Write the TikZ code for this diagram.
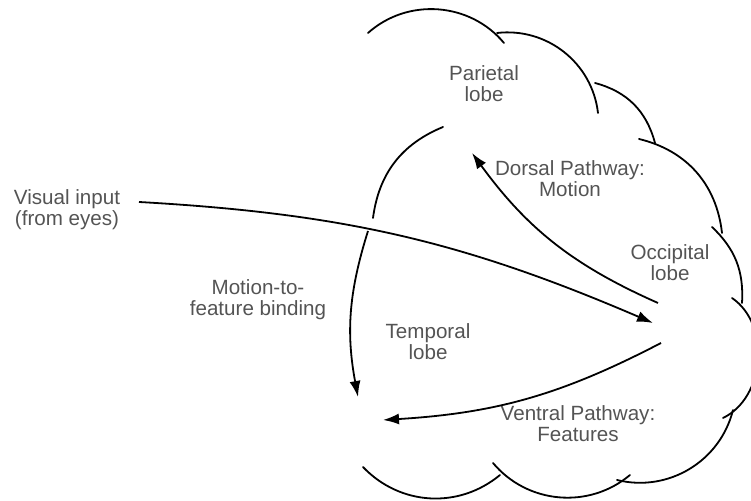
\documentclass[tikz,border=0pt]{standalone}
\usepackage{fontspec}
\setmainfont{Liberation Sans}
\usetikzlibrary{arrows.meta}
\definecolor{labelgrey}{rgb}{0.33,0.33,0.33}
\tikzset{
  lobe/.style={text=labelgrey, align=center, inner sep=0pt,
    font=\fontsize{10.3}{10.5}\selectfont},
  rim/.style={line width=0.9pt, line cap=round},
  pathway/.style={line width=0.9pt, -{Latex[length=8pt,width=5.5pt]}},
}

\begin{document}
\begin{tikzpicture}[x=0.5pt,y=0.5pt]
\useasboundingbox (0,0) rectangle (751,501);
% cloud rim, one scallop at a time
\draw[rim] (368,468) to[bend left=46] (504,458);
\draw[rim] (497,468) to[bend left=45] (598,388);
\draw[rim] (595,418) to[bend left=30] (655,358);
\draw[rim] (639,362) to[bend left=35] (722,268);
\draw[rim] (712,274) to[bend left=25] (742,198);
\draw[rim] (732,203) to[bend left=60] (723,83);
\draw[rim] (733,91) to[bend left=45] (617,21);
\draw[rim] (493,38) to[bend right=45] (630,26);
\draw[rim] (363,34) to[bend right=43] (500,26);
\draw[rim] (443,374) to[bend right=30] (373,283);
% labels
\node[lobe] (visual)    at (67,291)  {Visual input\\(from eyes)};
\node[lobe] (parietal)  at (484,417) {Parietal\\lobe};
\node[lobe] (dorsal)    at (570,322) {Dorsal Pathway:\\Motion};
\node[lobe] (occipital) at (670,238) {Occipital\\lobe};
\node[lobe] (temporal)  at (428,159) {Temporal\\lobe};
\node[lobe] (ventral)   at (578,77)  {Ventral Pathway:\\Features};
\node[lobe] (binding)   at (258,201) {Motion-to-\\feature binding};
% arrow ends
\coordinate (eye)     at (139,299);
\coordinate (occin)   at (653,178);
\coordinate (dstart)  at (658,198);
\coordinate (dend)    at (472,348);
\coordinate (vstart)  at (661,158);
\coordinate (vend)    at (383,81);
\coordinate (bstart)  at (368,270);
\coordinate (bend)    at (358,104);
% pathways
\draw[pathway] (eye) to[bend left=10] (occin);
\draw[pathway] (dstart) to[bend left=15] (dend);
\draw[pathway] (vstart) to[bend left=12] (vend);
\draw[pathway] (bstart) to[bend right=14] (bend);
\end{tikzpicture}
\end{document}
